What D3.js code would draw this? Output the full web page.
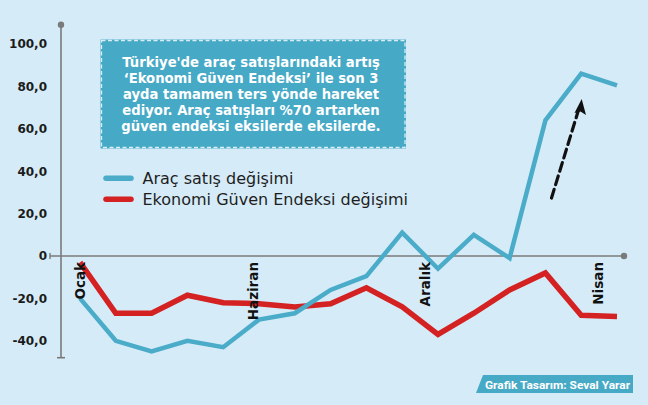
<!DOCTYPE html>
<html><head><meta charset="utf-8">
<script src="https://cdn.jsdelivr.net/npm/d3@7"></script>
<style>
html,body{margin:0;padding:0;background:#d5ebf8;}
svg{display:block;}
</style></head>
<body>
<script>
const categories = ["Oca","Şub","Mar","Nis","May","Haz","Tem","Ağu","Eyl","Eki","Kas","Ara","Oca2","Şub2","Mar2","Nis2"];
const aracSatis = [-20, -40, -45, -40, -43, -30, -27, -16, -9.5, 11, -6, 10, -1, 64, 86, 80.5];
const guvenEndeksi = [-3, -27, -27, -18.5, -22, -22.5, -24, -22.5, -15, -24, -37, -27, -16, -8, -28, -28.5];
const xTickLabels = ["Ocak", "Haziran", "Aralık", "Nisan"];
const yTicks = [-40, -20, 0, 20, 40, 60, 80, 100];
const seriesNames = ["Araç satış değişimi", "Ekonomi Güven Endeksi değişimi"];
const noteLines = ["Türkiye'de araç satışlarındaki artış", "‘Ekonomi Güven Endeksi’ ile son 3", "ayda tamamen ters yönde hareket", "ediyor. Araç satışları %70 artarken", "güven endeksi eksilerde eksilerde."];
const credit = "Grafik Tasarım: Seval Yarar";

const W = 648, H = 405;
const BLUE = "#4aacc8", RED = "#d42121", BOX = "#46a9c6", AXIS = "#7a7a7a";
const svg = d3.select("body").append("svg").attr("width", W).attr("height", H);
svg.append("rect").attr("width", W).attr("height", H).attr("fill", "#d5ebf8");

const x = d3.scalePoint().domain(d3.range(categories.length)).range([80, 617]);
const y = d3.scaleLinear().domain([-40, 100]).range([340.8, 44]);
const xl = d3.scalePoint().domain(xTickLabels).range([80, 598]);

// y axis line
svg.append("line").attr("x1", 61).attr("x2", 61).attr("y1", 24.7).attr("y2", 357.7)
  .attr("stroke", AXIS).attr("stroke-width", 1.6);
svg.append("circle").attr("cx", 61).attr("cy", 24.7).attr("r", 3.2).attr("fill", AXIS);
svg.append("line").attr("x1", 57).attr("x2", 65).attr("y1", 357.7).attr("y2", 357.7)
  .attr("stroke", AXIS).attr("stroke-width", 1.6);
// zero line
svg.append("line").attr("x1", 50).attr("x2", 624).attr("y1", y(0)).attr("y2", y(0))
  .attr("stroke", AXIS).attr("stroke-width", 1.6);
svg.append("line").attr("x1", 50).attr("x2", 50).attr("y1", y(0) - 3).attr("y2", y(0) + 3)
  .attr("stroke", AXIS).attr("stroke-width", 1.4);
svg.append("circle").attr("cx", 624).attr("cy", y(0)).attr("r", 3.2).attr("fill", AXIS);

// y tick labels
svg.append("g").selectAll("text").data(yTicks).join("text")
  .attr("x", 47).attr("y", d => y(d)).attr("dy", "0.36em")
  .attr("text-anchor", "end")
  .attr("font-family", "DejaVu Sans").attr("font-weight", "bold").attr("font-size", 12)
  .attr("fill", "#1b1b1b")
  .text(d => d === 0 ? "0" : d3.format(".1f")(d).replace(".", ",").replace("−", "-"));

// lines
const line = d3.line().x((d, i) => x(i)).y(d => y(d));
svg.append("path").datum(guvenEndeksi).attr("d", line).attr("fill", "none")
  .attr("stroke", RED).attr("stroke-width", 5.5).attr("stroke-linejoin", "miter");
svg.append("path").datum(aracSatis).attr("d", line).attr("fill", "none")
  .attr("stroke", BLUE).attr("stroke-width", 4.5).attr("stroke-linejoin", "miter");

// x labels (rotated)
svg.append("g").selectAll("text").data(xTickLabels).join("text")
  .attr("transform", d => `translate(${xl(d)},262) rotate(-90)`)
  .attr("dy", "0.36em").attr("text-anchor", "end")
  .attr("font-family", "DejaVu Sans").attr("font-weight", "bold").attr("font-size", 13.5)
  .attr("fill", "#111").text(d => d);

// arrow
svg.append("line").attr("x1", 551.5).attr("y1", 198).attr("x2", 578.5).attr("y2", 110)
  .attr("stroke", "#111").attr("stroke-width", 3.2).attr("stroke-dasharray", "9,5")
  .attr("stroke-linecap", "round");
svg.append("path").attr("d", "M581.7,99 L586,115 L580.5,111.5 L574.5,113 Z").attr("fill", "#111");

// annotation box
svg.append("rect").attr("x", 100.5).attr("y", 39.5).attr("width", 305.5).attr("height", 109)
  .attr("fill", BOX);
svg.append("rect").attr("x", 101.5).attr("y", 40.5).attr("width", 303.5).attr("height", 107)
  .attr("fill", "none").attr("stroke", "#d9eef6").attr("stroke-width", 1.3).attr("stroke-dasharray", "4,2.5");
svg.append("g").selectAll("text").data(noteLines).join("text")
  .attr("x", 251).attr("y", (d, i) => 66.5 + i * 16.2).attr("text-anchor", "middle")
  .attr("font-family", "DejaVu Sans").attr("font-weight", "bold").attr("font-size", 13.2)
  .attr("fill", "#fff").text(d => d);

// legend
const lg = svg.append("g");
[BLUE, RED].forEach((c, i) => {
  lg.append("line").attr("x1", 106).attr("x2", 131).attr("y1", 178.3 + i * 21).attr("y2", 178.3 + i * 21)
    .attr("stroke", c).attr("stroke-width", 5.5).attr("stroke-linecap", "round");
  lg.append("text").attr("x", 142.5).attr("y", 183.8 + i * 21)
    .attr("font-family", "DejaVu Sans").attr("font-size", 16)
    .attr("fill", "#1e1e1e").text(seriesNames[i]);
});

// credit
svg.append("path").attr("d", "M483,375 L633,375 L633,393 L476,393 Z").attr("fill", BOX);
svg.append("text").attr("x", 485).attr("y", 388.5)
  .attr("font-family", "Roboto").attr("font-weight", "bold").attr("font-size", 11.5)
  .attr("textLength", 145).attr("lengthAdjust", "spacingAndGlyphs")
  .attr("fill", "#fff").text(credit);
</script>
</body></html>
